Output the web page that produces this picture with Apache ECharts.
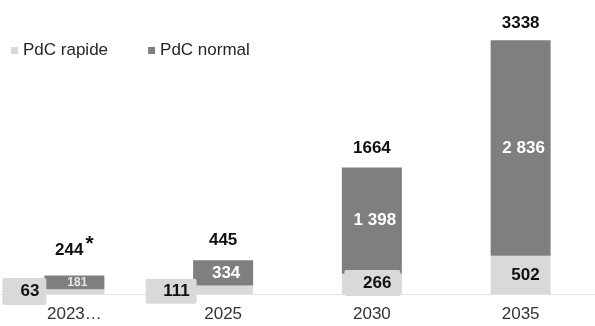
<!DOCTYPE html>
<html>
<head>
<meta charset="utf-8">
<script src="https://cdn.jsdelivr.net/npm/echarts@6/dist/echarts.min.js"></script>
<style>
  html, body { margin: 0; padding: 0; background: #fff; }
  #chart { width: 595px; height: 326px; }
</style>
</head>
<body>
<div id="chart"></div>
<script>
// Chart values
const categories = ['2023…', '2025', '2030', '2035'];
const rapide = [63, 111, 266, 502];
const normal = [181, 334, 1398, 2836];
const totals = rapide.map((v, i) => v + normal[i]);

const LIGHT = '#d9d9d9';
const DARK = '#7f7f7f';
const FONT = 'Liberation Sans, Arial, sans-serif';

// "1398" -> "1 398"
const spaced = v => String(v).replace(/\B(?=(\d{3})+(?!\d))/g, ' ');

// Callout boxes for the light segment labels
const rapideBoxes = [
  { offset: [-28, 0],     width: 37, lineHeight: 27, padRight: 7 },
  { offset: [-26.5, 1.5], width: 44, lineHeight: 25, padRight: 7 },
  { offset: [28.5, -1],   width: 47, lineHeight: 26, padRight: 9 },
  { offset: [28, 0],      width: 47, lineHeight: 26, padRight: 9 }
];
const totalDistances = [9, 11, 11, 8];
const normalFontSizes = [12, 17, 17, 17];
const normalColors = ['#e8e8e8', '#fff', '#fff', '#fff'];

const chart = echarts.init(document.getElementById('chart'), null, { renderer: 'canvas' });

chart.setOption({
  animation: false,
  textStyle: { fontFamily: FONT },
  legend: {
    data: ['PdC rapide', 'PdC normal'],
    left: 6,
    top: 37,
    icon: 'rect',
    itemWidth: 7,
    itemHeight: 7,
    itemGap: 40,
    textStyle: { fontSize: 17, color: '#262626', fontFamily: FONT }
  },
  grid: { left: -2, right: -4, top: 28, bottom: 32 },
  xAxis: {
    type: 'category',
    data: categories,
    axisLine: { lineStyle: { color: '#e3e3e3', width: 1 } },
    axisTick: { show: false },
    axisLabel: { color: '#333', fontSize: 17, margin: 12, fontFamily: FONT, interval: 0 }
  },
  yAxis: { type: 'value', min: 0, max: 3500, show: false, splitLine: { show: false } },
  series: [
    {
      name: 'PdC rapide',
      type: 'bar',
      stack: 'pdc',
      barWidth: 60,
      itemStyle: { color: LIGHT },
      data: rapide.map((v, i) => ({
        value: v,
        label: {
          show: true,
          position: 'inside',
          align: 'right',
          verticalAlign: 'middle',
          offset: rapideBoxes[i].offset,
          width: rapideBoxes[i].width,
          lineHeight: rapideBoxes[i].lineHeight,
          padding: [0, rapideBoxes[i].padRight, 0, 0],
          backgroundColor: LIGHT,
          borderRadius: 2,
          color: '#111',
          fontWeight: 'bold',
          fontSize: 17,
          fontFamily: FONT
        }
      }))
    },
    {
      name: 'PdC normal',
      type: 'bar',
      stack: 'pdc',
      barWidth: 60,
      itemStyle: { color: DARK },
      data: normal.map((v, i) => ({
        value: v,
        label: {
          show: true,
          position: 'inside',
          offset: [3, 0],
          formatter: p => spaced(p.value),
          color: normalColors[i],
          fontWeight: 'bold',
          fontSize: normalFontSizes[i],
          fontFamily: FONT
        }
      }))
    },
    {
      name: 'Total',
      type: 'bar',
      barWidth: 60,
      barGap: '-100%',
      silent: true,
      itemStyle: { color: 'rgba(0,0,0,0)' },
      z: 1,
      data: totals.map((v, i) => ({
        value: v,
        label: {
          show: true,
          position: 'top',
          distance: totalDistances[i],
          formatter: i === 0 ? '{v|{c}}{s|*}' : '{v|{c}}',
          rich: {
            v: { fontSize: 17, fontWeight: 'bold', color: '#111', fontFamily: FONT },
            s: { fontSize: 21, fontWeight: 'bold', color: '#111', fontFamily: FONT, padding: [0, 0, 12, 2] }
          }
        }
      }))
    }
  ]
});
</script>
</body>
</html>
